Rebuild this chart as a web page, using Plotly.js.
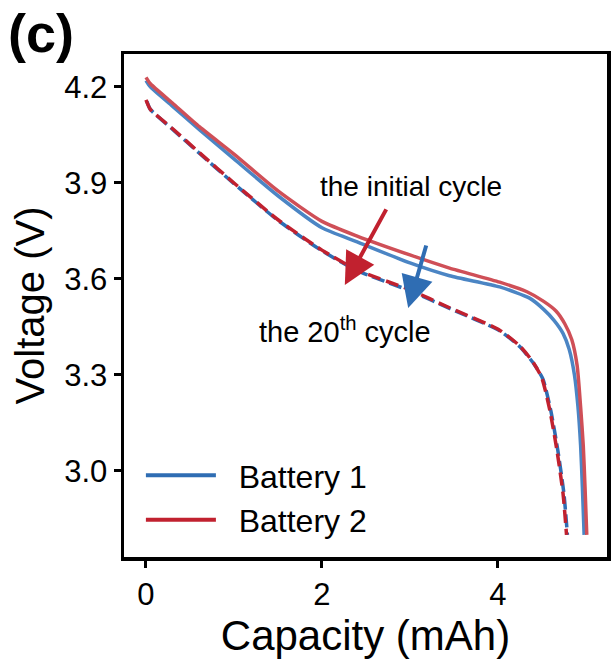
<!DOCTYPE html>
<html><head><meta charset="utf-8">
<script src="https://cdn.plot.ly/plotly-3.0.1.min.js"></script>
<style>html,body{margin:0;padding:0;background:#fff}#chart{width:613px;height:661px}</style>
</head><body><div id="chart"></div>
<script>
// Battery 2, initial cycle (red solid)
const capB2Init = [0, 0.05, 0.3, 0.61, 1.0, 1.5, 2.0, 2.4, 3.0, 3.45, 4.02, 4.33, 4.52, 4.66, 4.76, 4.84, 4.90, 4.94, 4.97, 4.99, 5.01];
const vB2Init   = [4.23, 4.21, 4.15, 4.075, 3.99, 3.875, 3.78, 3.734, 3.675, 3.634, 3.59, 3.56, 3.53, 3.50, 3.46, 3.41, 3.33, 3.2, 3.08, 2.95, 2.8];
// Battery 1, initial cycle (blue solid)
const capB1Init = [0, 0.05, 0.3, 0.61, 1.0, 1.5, 2.0, 2.4, 3.0, 3.45, 4.02, 4.36, 4.52, 4.64, 4.74, 4.81, 4.87, 4.91, 4.94, 4.96, 4.98];
const vB1Init   = [4.22, 4.2, 4.14, 4.066, 3.975, 3.86, 3.76, 3.716, 3.65, 3.61, 3.575, 3.54, 3.505, 3.47, 3.43, 3.38, 3.30, 3.2, 3.08, 2.95, 2.8];
// Battery 2, 20th cycle (red dashed)
const capB2C20 = [0, 0.05, 0.3, 0.61, 1.0, 1.5, 2.0, 2.4, 3.0, 3.45, 4.02, 4.25, 4.4, 4.5, 4.59, 4.67, 4.74, 4.78];
const vB2C20   = [4.16, 4.13, 4.07, 3.994, 3.9, 3.785, 3.69, 3.628, 3.566, 3.51, 3.44, 3.39, 3.34, 3.29, 3.19, 3.066, 2.93, 2.8];
// Battery 1, 20th cycle (blue dashed)
const capB1C20 = [0.01, 0.05, 0.3, 0.61, 1.0, 1.5, 2.0, 2.4, 3.0, 3.45, 4.02, 4.25, 4.4, 4.51, 4.6, 4.68, 4.75, 4.79];
const vB1C20   = [4.155, 4.13, 4.068, 3.992, 3.898, 3.783, 3.688, 3.626, 3.563, 3.508, 3.438, 3.388, 3.338, 3.288, 3.19, 3.066, 2.93, 2.8];

const legendNames = ["Battery 1", "Battery 2"];
const xTicks = [0, 2, 4];
const yTicks = [3.0, 3.3, 3.6, 3.9, 4.2];
const yTickText = ["3.0", "3.3", "3.6", "3.9", "4.2"];

const BLUE = "#2f6db3", RED = "#c1212f";
const BLUE_L = "#4b85c4", RED_L = "#cf4f57";
const NB = "\u00a0";

const traces = [
  {x: capB1C20, y: vB1C20, mode: "lines", line: {color: BLUE, width: 3.5, dash: "13px,5px", shape: "spline", smoothing: 0.6}, showlegend: false, hoverinfo: "skip"},
  {x: capB2C20, y: vB2C20, mode: "lines", line: {color: RED, width: 3.5, dash: "13px,6px", shape: "spline", smoothing: 0.6}, showlegend: false, hoverinfo: "skip"},
  {x: capB1Init, y: vB1Init, mode: "lines", line: {color: BLUE_L, width: 3.5, shape: "spline", smoothing: 0.6}, showlegend: false, hoverinfo: "skip"},
  {x: capB2Init, y: vB2Init, mode: "lines", line: {color: RED_L, width: 3.5, shape: "spline", smoothing: 0.6}, showlegend: false, hoverinfo: "skip"},
  {x: [null], y: [null], mode: "lines", name: NB + NB + legendNames[0], line: {color: BLUE, width: 4}},
  {x: [null], y: [null], mode: "lines", name: NB + NB + legendNames[1], line: {color: RED, width: 4}}
];

const layout = {
  width: 613, height: 661,
  margin: {l: 124, r: 6, t: 54, b: 104, pad: 0},
  paper_bgcolor: "#fff", plot_bgcolor: "#fff",
  font: {family: "Liberation Sans, Arial, sans-serif", color: "#000"},
  xaxis: {
    range: [-0.25, 5.24], tickvals: xTicks, ticks: "outside", ticklen: 7, tickwidth: 3, tickcolor: "#000",
    showline: true, mirror: true, linewidth: 3.5, linecolor: "#000", showgrid: false, zeroline: false,
    tickfont: {size: 31}, title: {text: "Capacity (mAh)", font: {size: 42}, standoff: 6}
  },
  yaxis: {
    range: [2.731, 4.303], tickvals: yTicks, ticktext: yTickText, ticks: "outside", ticklen: 7, tickwidth: 3, tickcolor: "#000",
    showline: true, mirror: true, linewidth: 3.5, linecolor: "#000", showgrid: false, zeroline: false,
    tickfont: {size: 31}, title: {text: "Voltage (V)" + NB + NB + NB, font: {size: 40}, standoff: 8}
  },
  legend: {x: 0.035, y: 0.018, xanchor: "left", yanchor: "bottom", bgcolor: "rgba(0,0,0,0)", font: {size: 32}, itemwidth: 70, tracegroupgap: 0},
  annotations: [
    {xref: "paper", yref: "paper", x: -0.245, y: 1.105, xanchor: "left", yanchor: "top", text: "<b>(c)</b>", showarrow: false, font: {size: 54}},
    {x: 3.01, y: 3.89, text: "the initial cycle", showarrow: false, font: {size: 28}, xanchor: "center", yanchor: "middle"},
    {x: 2.26, y: 3.44, text: "the 20<sup>th</sup> cycle", showarrow: false, font: {size: 29}, xanchor: "center", yanchor: "middle"},
    {x: 2.26, y: 3.581, ax: 2.74, ay: 3.822, axref: "x", ayref: "y", showarrow: true, arrowhead: 2, arrowsize: 1.6, arrowwidth: 4, arrowcolor: RED, text: ""},
    {x: 2.98, y: 3.509, ax: 3.19, ay: 3.709, axref: "x", ayref: "y", showarrow: true, arrowhead: 2, arrowsize: 1.6, arrowwidth: 4, arrowcolor: BLUE, text: ""}
  ]
};

Plotly.newPlot("chart", traces, layout, {staticPlot: true, displayModeBar: false});
</script></body></html>
